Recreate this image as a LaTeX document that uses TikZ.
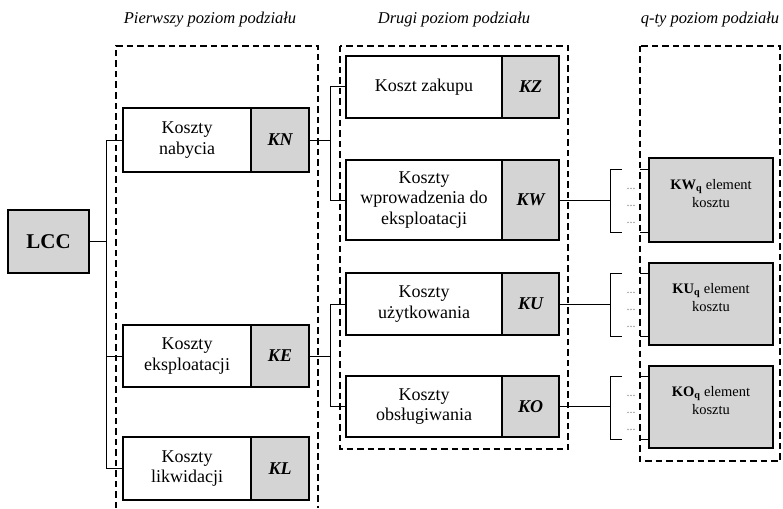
\documentclass[tikz,border=0pt]{standalone}
\usepackage{fontspec}
\setmainfont{Liberation Serif}
\usetikzlibrary{positioning,calc}
\definecolor{codegray}{RGB}{212,212,212}
\begin{document}
\begin{tikzpicture}[x=1pt,y=-1pt,
  name box/.style={draw,line width=1.2pt,fill=white,align=center,inner sep=0pt,outer sep=0pt,font=\fontsize{18}{20.5}\selectfont},
  code box/.style={draw,line width=1.2pt,fill=codegray,inner sep=0pt,outer sep=0pt,font=\fontsize{18}{20.5}\selectfont\bfseries\itshape},
  elem box/.style={draw,line width=1.2pt,fill=codegray,align=center,inner sep=0pt,outer sep=0pt,minimum width=124pt,text depth=14pt,font=\fontsize{14.5}{18}\selectfont},
  level frame/.style={line width=1.8pt,dash pattern=on 6.5pt off 4pt},
  title/.style={font=\fontsize{16.5}{19}\selectfont\itshape},
  link/.style={line width=1pt},
  dots/.style={anchor=base,inner sep=0pt,text=gray,font=\fontsize{12}{12}\selectfont}]

  \useasboundingbox (0,0) rectangle (783,508);

  \node[title] (t1) at (210,20) {Pierwszy poziom podziału};
  \node[title] (t2) at (454,20) {Drugi poziom podziału};
  \node[title] (t3) at (710,20) {q-ty poziom podziału};

  \draw[level frame] (116,508) -- (116,46) -- (318,46) -- (318,508);
  \draw[level frame] (340,46) rectangle (568,449);
  \draw[level frame] (640,46) rectangle (780,461);

  \node[draw,line width=1.2pt,fill=codegray,minimum width=81pt,minimum height=63pt,
    font=\fontsize{21}{24}\selectfont\bfseries] (lcc) at (48.5,241.5) {LCC};

  \node[name box,minimum width=128pt,minimum height=64pt] (kn) at (187,140) {Koszty\\nabycia};
  \node[code box,minimum width=58pt,minimum height=64pt,right=0pt of kn] (knc) {KN};
  \node[name box,minimum width=128pt,minimum height=62pt] (ke) at (187,356) {Koszty\\eksploatacji};
  \node[code box,minimum width=58pt,minimum height=62pt,right=0pt of ke] (kec) {KE};
  \node[name box,minimum width=128pt,minimum height=63pt] (kl) at (187,468.5) {Koszty\\likwidacji};
  \node[code box,minimum width=58pt,minimum height=63pt,right=0pt of kl] (klc) {KL};

  \node[name box,minimum width=156pt,minimum height=62pt] (kz) at (424,87) {Koszt zakupu};
  \node[code box,minimum width=57pt,minimum height=62pt,right=0pt of kz] (kzc) {KZ};
  \node[name box,minimum width=156pt,minimum height=80pt] (kw) at (424,200) {Koszty\\wprowadzenia do\\eksploatacji};
  \node[code box,minimum width=57pt,minimum height=80pt,right=0pt of kw] (kwc) {KW};
  \node[name box,minimum width=156pt,minimum height=62pt] (ku) at (424,304) {Koszty\\użytkowania};
  \node[code box,minimum width=57pt,minimum height=62pt,right=0pt of ku] (kuc) {KU};
  \node[name box,minimum width=156pt,minimum height=61pt] (ko) at (424,406.5) {Koszty\\obsługiwania};
  \node[code box,minimum width=57pt,minimum height=61pt,right=0pt of ko] (koc) {KO};

  \node[elem box,minimum height=84pt] (kwq) at (711,200) {\textbf{KW\textsubscript{q}} element\\kosztu};
  \node[elem box,minimum height=82pt] (kuq) at (711,304) {\textbf{KU\textsubscript{q}} element\\kosztu};
  \node[elem box,minimum height=82pt] (koq) at (711,407) {\textbf{KO\textsubscript{q}} element\\kosztu};

  \draw[link] (lcc.east) -- ++(17,0);
  \draw[link] (kn.west) -- ++(-17,0) |- (kl.west);
  \draw[link] (ke.west) -- ++(-17,0);

  \draw[link] (knc.east) -- ++(21,0);
  \draw[link] (kz.west) -- ++(-16,0) |- (kw.west);
  \draw[link] (kec.east) -- ++(21,0);
  \draw[link] (ku.west) -- ++(-16,0) |- (ko.west);

  \draw[link] (kwc.east) -- ++(51,0);
  \draw[link] (kwq.west) ++(-27,-31) -- ++(-12,0) -- ++(0,63) -- ++(12,0);
  \draw[link] (kwq.west) ++(-9,-31) -- ++(9,0);
  \draw[link] (kwq.west) ++(-9,32) -- ++(9,0);
  \node[dots] (kwd1) at ($(kwq.west)+(-18,-11)$) {...};
  \node[dots] (kwd2) at ($(kwq.west)+(-18,6)$) {...};
  \node[dots] (kwd3) at ($(kwq.west)+(-18,23)$) {...};

  \draw[link] (kuc.east) -- ++(51,0);
  \draw[link] (kuq.west) ++(-27,-31) -- ++(-12,0) -- ++(0,63) -- ++(12,0);
  \draw[link] (kuq.west) ++(-9,-31) -- ++(9,0);
  \draw[link] (kuq.west) ++(-9,32) -- ++(9,0);
  \node[dots] (kud1) at ($(kuq.west)+(-18,-11)$) {...};
  \node[dots] (kud2) at ($(kuq.west)+(-18,6)$) {...};
  \node[dots] (kud3) at ($(kuq.west)+(-18,23)$) {...};

  \draw[link] (koc.east) -- ++(51,0);
  \draw[link] (koq.west) ++(-27,-31) -- ++(-12,0) -- ++(0,63) -- ++(12,0);
  \draw[link] (koq.west) ++(-9,-31) -- ++(9,0);
  \draw[link] (koq.west) ++(-9,32) -- ++(9,0);
  \node[dots] (kod1) at ($(koq.west)+(-18,-11)$) {...};
  \node[dots] (kod2) at ($(koq.west)+(-18,6)$) {...};
  \node[dots] (kod3) at ($(koq.west)+(-18,23)$) {...};
\end{tikzpicture}
\end{document}
